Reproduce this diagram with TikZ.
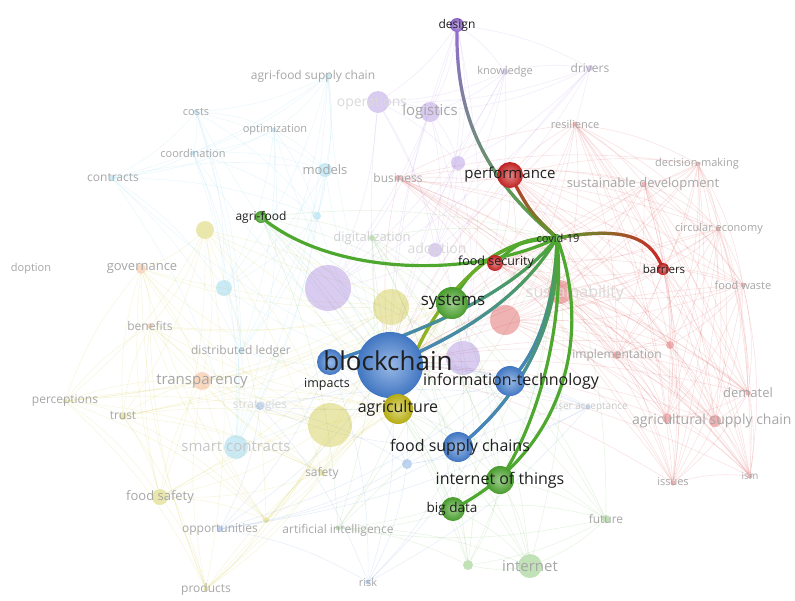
\documentclass[tikz,border=0pt]{standalone}
\usepackage{fontspec}
\setmainfont{Open Sans}
\usetikzlibrary{fadings}

\definecolor{vosgreen}{RGB}{78,168,48}
\definecolor{vosblue}{RGB}{70,128,210}
\definecolor{vosred}{RGB}{208,36,36}
\definecolor{vosyellow}{RGB}{196,186,20}
\definecolor{vospurple}{RGB}{150,108,214}
\definecolor{voscyan}{RGB}{104,196,228}
\definecolor{vosorange}{RGB}{238,146,84}

\pgfdeclarelayer{edges}
\pgfdeclarelayer{faded}
\pgfdeclarelayer{links}
\pgfsetlayers{edges,faded,links,main}

\tikzfading[name=fadeup, top color=transparent!100, bottom color=transparent!0]
\tikzfading[name=fadeleft, left color=transparent!0, right color=transparent!100]

\tikzset{
  fdot/.style={circle, inner sep=0pt, fill=#1, fill opacity=0.35, draw=none},
  bub/.style={circle, inner sep=0pt, inner color=#1!55!white, outer color=#1!92!black, draw=none},
  dim/.style={inner sep=0pt, text=black!35, font=\fontsize{#1}{#1}\selectfont},
  hot/.style={inner sep=0pt, text=black!88, font=\fontsize{#1}{#1}\selectfont},
  faint/.style={draw=#1, draw opacity=0.13, line width=0.6pt},
  link/.style={draw=#1, line width=3.2pt, line cap=round},
}

% clusters for the background web
\def\redset{performance,business,resilience,decision,sustdev,circular,barriers,foodsec,foodwaste,sustA,sustB,implementation,reddot,dematel,agsc,agscB,issues,ism}
\def\purpleset{design,knowledge,drivers,operations,logistics,purpdot,adopt,bigpurple,purpleB}
\def\cyanset{agrifoodsc,costs,optimization,coordination,contracts,models,cyansmall,cyandot,distledger,smartc}
\def\yellowset{yellowdot,yellowA,perceptions,trust,yellowbig,safety,foodsafety,ydot,products,agriculture,governance,benefits,transparency}
\def\greenset{agrifood,digital,covid,systems,iot,bigdata,future,ai,internet,gdot}
\def\blueset{blockchain,impacts,infotech,fsc,strategies,useracc,bluedot,opportunities,risk}

\begin{document}
\begin{tikzpicture}[x=1pt,y=-1pt]
\useasboundingbox (0,0) rectangle (795,600);

% faded keywords
\begin{pgfonlayer}{faded}
\node[fdot=vospurple, minimum size=6] (knowledge) at (505,72) {};
\node[dim=11] (knowledge-t) at (505,72) {knowledge};
\node[fdot=vospurple, minimum size=6] (drivers) at (590,68) {};
\node[dim=12] (drivers-t) at (590,68) {drivers};
\node[fdot=vospurple, minimum size=22] (operations) at (378,102) {};
\node[dim=14, text=black!15] (operations-t) at (372,103) {operations};
\node[fdot=vospurple, minimum size=20] (logistics) at (430,112) {};
\node[dim=15] (logistics-t) at (430,112) {logistics};
\node[fdot=vospurple, minimum size=14] (purpdot) at (458,163) {};
\node[fdot=vospurple, minimum size=14] (adopt) at (435,250) {};
\node[dim=14, text=black!15] (adopt-t) at (437,250) {adoption};
\node[fdot=vospurple, minimum size=46] (bigpurple) at (328,288) {};
\node[fdot=vospurple, minimum size=34] (purpleB) at (463,358) {};

\node[fdot=vosred, minimum size=6] (business) at (398,178) {};
\node[dim=12] (business-t) at (398,178) {business};
\node[fdot=vosred, minimum size=5] (resilience) at (575,124) {};
\node[dim=11] (resilience-t) at (575,124) {resilience};
\node[fdot=vosred, minimum size=5] (decision) at (698,164) {};
\node[dim=11] (decision-t) at (697,164) {decision-making};
\node[fdot=vosred, minimum size=5] (sustdev) at (644,184) {};
\node[dim=13] (sustdev-t) at (643,184) {sustainable development};
\node[fdot=vosred, minimum size=5] (circular) at (718,229) {};
\node[dim=11] (circular-t) at (719,229) {circular economy};
\node[fdot=vosred, minimum size=5] (foodwaste) at (743,285) {};
\node[dim=11] (foodwaste-t) at (743,285) {food waste};
\node[fdot=vosred, minimum size=24] (sustA) at (560,292) {};
\node[fdot=vosred, minimum size=30] (sustB) at (505,320) {};
\node[dim=16, text=black!15] (sust-t) at (575,293) {sustainability};
\node[fdot=vosred, minimum size=8] (implementation) at (617,355) {};
\node[dim=12] (implementation-t) at (617,355) {implementation};
\node[fdot=vosred, minimum size=8] (reddot) at (670,345) {};
\node[fdot=vosred, minimum size=5] (dematel) at (748,393) {};
\node[dim=13] (dematel-t) at (748,393) {dematel};
\node[fdot=vosred, minimum size=10] (agsc) at (667,418) {};
\node[fdot=vosred, minimum size=12] (agscB) at (715,421) {};
\node[dim=14, anchor=west] (agsc-t) at (632,421) {agricultural supply chain};
\node[fdot=vosred, minimum size=5] (issues) at (673,483) {};
\node[dim=11] (issues-t) at (673,482) {issues};
\node[fdot=vosred, minimum size=5] (ism) at (750,476) {};
\node[dim=10] (ism-t) at (750,476) {ism};

\node[fdot=voscyan, minimum size=6] (agrifoodsc) at (328,76) {};
\node[dim=12] (agrifoodsc-t) at (313,76) {agri-food supply chain};
\node[fdot=voscyan, minimum size=5] (costs) at (196,112) {};
\node[dim=11] (costs-t) at (196,112) {costs};
\node[fdot=voscyan, minimum size=5] (optimization) at (274,130) {};
\node[dim=11] (optimization-t) at (275,130) {optimization};
\node[fdot=voscyan, minimum size=5] (coordination) at (193,153) {};
\node[dim=11] (coordination-t) at (193,153) {coordination};
\node[fdot=voscyan, minimum size=6] (contracts) at (112,178) {};
\node[dim=12] (contracts-t) at (113,178) {contracts};
\node[fdot=voscyan, minimum size=14] (models) at (325,170) {};
\node[dim=13] (models-t) at (325,170) {models};
\node[fdot=voscyan, minimum size=8] (cyansmall) at (317,216) {};
\node[fdot=voscyan, minimum size=16] (cyandot) at (224,288) {};
\node[fdot=voscyan, minimum size=6] (distledger) at (241,351) {};
\node[dim=12] (distledger-t) at (241,351) {distributed ledger};
\node[fdot=voscyan, minimum size=24] (smartc) at (236,447) {};
\node[dim=15, text=black!22] (smartc-t) at (236,447) {smart contracts};

\node[fdot=vosorange, minimum size=10] (governance) at (141,269) {};
\node[dim=13] (governance-t) at (142,269) {governance};
\node[dim=11] (doption-t) at (31,269) {doption};
\node[fdot=vosorange, minimum size=6] (benefits) at (150,326) {};
\node[dim=12] (benefits-t) at (150,326) {benefits};
\node[fdot=vosorange, minimum size=18] (transparency) at (202,381) {};
\node[dim=15] (transparency-t) at (202,381) {transparency};

\node[fdot=vosyellow, minimum size=18] (yellowdot) at (205,230) {};
\node[fdot=vosyellow, minimum size=36] (yellowA) at (391,307) {};
\node[fdot=vosyellow, minimum size=5] (perceptions) at (65,401) {};
\node[dim=12] (perceptions-t) at (65,401) {perceptions};
\node[fdot=vosyellow, minimum size=8] (trust) at (123,416) {};
\node[dim=12] (trust-t) at (123,416) {trust};
\node[fdot=vosyellow, minimum size=44] (yellowbig) at (330,425) {};
\node[fdot=vosyellow, minimum size=6] (safety) at (322,473) {};
\node[dim=12] (safety-t) at (322,473) {safety};
\node[fdot=vosyellow, minimum size=16] (foodsafety) at (160,497) {};
\node[dim=13] (foodsafety-t) at (160,497) {food safety};
\node[fdot=vosyellow, minimum size=6] (ydot) at (266,520) {};
\node[fdot=vosyellow, minimum size=5] (products) at (206,589) {};
\node[dim=12] (products-t) at (206,589) {products};

\node[fdot=vosgreen, minimum size=6] (digital) at (372,238) {};
\node[dim=13, text=black!18] (digital-t) at (372,238) {digitalization};
\node[fdot=vosgreen, minimum size=8] (future) at (606,519) {};
\node[dim=12] (future-t) at (606,519) {future};
\node[fdot=vosgreen, minimum size=5] (ai) at (338,528) {};
\node[dim=12] (ai-t) at (338,530) {artificial intelligence};
\node[fdot=vosgreen, minimum size=24] (internet) at (530,566) {};
\node[dim=15] (internet-t) at (530,566) {internet};
\node[fdot=vosgreen, minimum size=10] (gdot) at (468,565) {};

\node[fdot=vosblue, minimum size=8] (strategies) at (260,406) {};
\node[dim=12, text=black!15] (strategies-t) at (260,406) {strategies};
\node[fdot=vosblue, minimum size=5] (useracc) at (588,407) {};
\node[dim=10, text=black!22] (useracc-t) at (590,407) {user acceptance};
\node[fdot=vosblue, minimum size=10] (bluedot) at (407,464) {};
\node[fdot=vosblue, minimum size=6] (opportunities) at (220,529) {};
\node[dim=12] (opportunities-t) at (220,530) {opportunities};
\node[fdot=vosblue, minimum size=5] (risk) at (368,582) {};
\node[dim=11] (risk-t) at (368,582) {risk};
\end{pgfonlayer}

% covid-19 and its neighbours
\node[bub=vospurple, minimum size=14] (design) at (457,25) {};
\node[bub=vosred, minimum size=26] (performance) at (510,175) {};
\node[bub=vosgreen, minimum size=12] (agrifood) at (261,217) {};
\node[bub=vosgreen, minimum size=8] (covid) at (557,238) {};
\node[bub=vosred, minimum size=16] (foodsec) at (495,263) {};
\node[bub=vosred, minimum size=12] (barriers) at (663,269) {};
\node[bub=vosgreen, minimum size=32] (systems) at (452,303) {};
\node[bub=vosblue, minimum size=26] (impacts) at (330,362) {};
\node[bub=vosblue, minimum size=66] (blockchain) at (390,365) {};
\node[bub=vosblue, minimum size=30] (infotech) at (510,381) {};
\node[bub=vosyellow, minimum size=30] (agriculture) at (398,409) {};
\node[bub=vosblue, minimum size=30] (fsc) at (458,447) {};
\node[bub=vosgreen, minimum size=28] (iot) at (500,480) {};
\node[bub=vosgreen, minimum size=24] (bigdata) at (453,509) {};

\node[hot=12] (design-t) at (457,25) {design};
\node[hot=15] (performance-t) at (510,175) {performance};
\node[hot=12] (agrifood-t) at (261,217) {agri-food};
\node[hot=11] (covid-t) at (558,238) {covid-19};
\node[hot=12.5] (foodsec-t) at (496,262) {food security};
\node[hot=11.5] (barriers-t) at (664,269) {barriers};
\node[hot=17] (systems-t) at (453,302) {systems};
\node[hot=26] (blockchain-t) at (388,361) {blockchain};
\node[hot=12.5] (impacts-t) at (327,384) {impacts};
\node[hot=16] (infotech-t) at (511,381) {information-technology};
\node[hot=16] (agriculture-t) at (398,408) {agriculture};
\node[hot=16] (fsc-t) at (460,447) {food supply chains};
\node[hot=16] (iot-t) at (500,480) {internet of things};
\node[hot=13.5] (bigdata-t) at (452,509) {big data};

% background web
\begin{pgfonlayer}{edges}
\foreach \a [count=\i] in \redset {
  \foreach \b [count=\j] in \redset {
    \ifnum\j>\i \draw[faint=vosred] (\a) to[bend left=10] (\b); \fi
  }
}
\foreach \a [count=\i] in \purpleset {
  \foreach \b [count=\j] in \purpleset {
    \ifnum\j>\i \draw[faint=vospurple] (\a) to[bend left=10] (\b); \fi
  }
}
\foreach \a [count=\i] in \cyanset {
  \foreach \b [count=\j] in \cyanset {
    \ifnum\j>\i \draw[faint=voscyan] (\a) to[bend left=10] (\b); \fi
  }
}
\foreach \a [count=\i] in \yellowset {
  \foreach \b [count=\j] in \yellowset {
    \ifnum\j>\i \draw[faint=vosyellow] (\a) to[bend left=10] (\b); \fi
  }
}
\foreach \a [count=\i] in \greenset {
  \foreach \b [count=\j] in \greenset {
    \ifnum\j>\i \draw[faint=vosgreen] (\a) to[bend left=10] (\b); \fi
  }
}
\foreach \a [count=\i] in \blueset {
  \foreach \b [count=\j] in \blueset {
    \ifnum\j>\i \draw[faint=vosblue] (\a) to[bend left=10] (\b); \fi
  }
}
\foreach \a in \redset {\draw[faint=vosred] (\a) to[bend right=8] (blockchain);}
\foreach \a in \purpleset {\draw[faint=vospurple] (\a) to[bend right=8] (blockchain);}
\foreach \a in \cyanset {\draw[faint=voscyan] (\a) to[bend right=8] (blockchain);}
\foreach \a in \yellowset {\draw[faint=vosyellow] (\a) to[bend right=8] (systems);}
\foreach \a in \greenset {\draw[faint=vosgreen] (\a) to[bend right=8] (agriculture);}
\end{pgfonlayer}

% links of covid-19
\begin{pgfonlayer}{links}
\draw[link=vospurple] (covid.center) .. controls (480,175) and (455,110) .. (design.center);
\draw[link=vosgreen, path fading=fadeup] (covid.center) .. controls (480,175) and (455,110) .. (design.center);
\draw[link=vosred] (covid.center) .. controls (530,212) .. (performance.center);
\draw[link=vosgreen, path fading=fadeup] (covid.center) .. controls (530,212) .. (performance.center);
\draw[link=vosred] (covid.center) .. controls (630,225) and (652,240) .. (barriers.center);
\draw[link=vosgreen, path fading=fadeleft] (covid.center) .. controls (630,225) and (652,240) .. (barriers.center);
\draw[link=vosgreen] (agrifood.center) .. controls (330,275) and (470,280) .. (covid.center);
\draw[link=vosgreen] (covid.center) .. controls (522,240) .. (foodsec.center);
\draw[link=vosgreen] (covid.center) .. controls (505,240) and (470,265) .. (systems.center);
\draw[link=vosgreen] (covid.center) .. controls (500,232) and (420,300) .. (agriculture.center);
\draw[link=vosyellow, path fading=fadeup] (covid.center) .. controls (500,232) and (420,300) .. (agriculture.center);
\draw[link=vosgreen] (covid.center) .. controls (520,300) and (460,335) .. (blockchain.center);
\draw[link=vosblue, path fading=fadeup] (covid.center) .. controls (520,300) and (460,335) .. (blockchain.center);
\draw[link=vosgreen] (covid.center) .. controls (512,292) and (440,325) .. (impacts.center);
\draw[link=vosblue, path fading=fadeup] (covid.center) .. controls (512,292) and (440,325) .. (impacts.center);
\draw[link=vosgreen] (covid.center) .. controls (555,300) and (540,350) .. (infotech.center);
\draw[link=vosblue, path fading=fadeup] (covid.center) .. controls (555,300) and (540,350) .. (infotech.center);
\draw[link=vosgreen] (covid.center) .. controls (562,320) and (520,400) .. (fsc.center);
\draw[link=vosblue, path fading=fadeup] (covid.center) .. controls (562,320) and (520,400) .. (fsc.center);
\draw[link=vosgreen] (covid.center) .. controls (565,320) and (540,420) .. (iot.center);
\draw[link=vosgreen] (covid.center) .. controls (595,340) and (560,455) .. (bigdata.center);
\end{pgfonlayer}
\end{tikzpicture}
\end{document}
